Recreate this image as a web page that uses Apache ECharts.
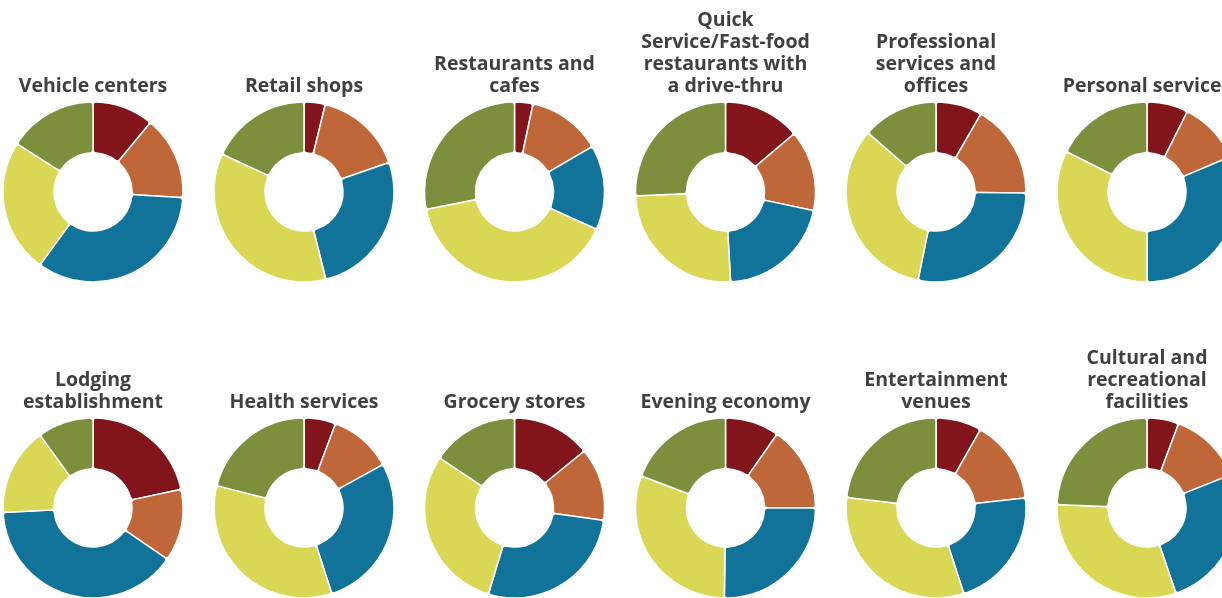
<!DOCTYPE html>
<html>
<head>
<meta charset="utf-8">
<script src="https://cdn.jsdelivr.net/npm/echarts@6/dist/echarts.min.js"></script>
<style>
  html, body { margin: 0; padding: 0; background: #ffffff; }
  #chart { width: 1222px; height: 598px; }
</style>
</head>
<body>
<div id="chart"></div>
<script>
// Categories (one donut each), in reading order
const categories = [
  'Vehicle centers', 'Retail shops', 'Restaurants and\ncafes',
  'Quick\nService/Fast-food\nrestaurants with\na drive-thru',
  'Professional\nservices and\noffices', 'Personal services',
  'Lodging\nestablishment', 'Health services', 'Grocery stores',
  'Evening economy', 'Entertainment\nvenues', 'Cultural and\nrecreational\nfacilities'
];

// Share (%) of each slice, clockwise from top, per category
const darkRedShare = [11.0, 3.8, 3.3, 13.8, 8.3, 7.4, 21.7, 5.7, 14.1, 9.7, 8.2, 5.7];
const orangeShare  = [15.0, 15.9, 13.3, 14.5, 16.9, 11.2, 12.9, 11.3, 13.1, 15.3, 15.0, 13.3];
const blueShare    = [34.0, 26.4, 15.2, 20.8, 28.0, 31.4, 39.6, 28.0, 27.5, 25.2, 21.8, 25.8];
const yellowShare  = [24.0, 35.8, 40.1, 25.2, 33.2, 32.4, 15.8, 34.0, 29.7, 30.6, 31.9, 30.8];
const greenShare   = [16.0, 18.1, 28.1, 25.7, 13.6, 17.6, 10.0, 21.0, 15.6, 19.2, 23.1, 24.4];

const sliceColors = ['#82141b', '#c0673a', '#11739a', '#d9d753', '#7b8f3c'];

const colX = [93, 304, 514.5, 725.5, 936, 1147];
const rowY = [192, 508];
const titleBottom = [98, 414];

const chart = echarts.init(document.getElementById('chart'));

const titles = [];
const series = [];
categories.forEach((cat, i) => {
  const col = i % 6, row = Math.floor(i / 6);
  titles.push({
    text: cat,
    left: colX[col],
    top: titleBottom[row],
    textAlign: 'center',
    textVerticalAlign: 'bottom',
    padding: 0,
    textStyle: {
      fontFamily: 'Open Sans',
      fontWeight: 'bold',
      fontSize: 19.5,
      lineHeight: 22.3,
      color: '#404040'
    }
  });
  const vals = [darkRedShare[i], orangeShare[i], blueShare[i], yellowShare[i], greenShare[i]];
  series.push({
    type: 'pie',
    name: cat,
    center: [colX[col], rowY[row]],
    radius: [39, 90],
    startAngle: 90,
    clockwise: true,
    silent: true,
    animation: false,
    label: { show: false },
    labelLine: { show: false },
    itemStyle: { borderColor: '#ffffff', borderWidth: 1.5, borderRadius: 3 },
    data: vals.map((v, k) => ({ value: v, itemStyle: { color: sliceColors[k] } }))
  });
});

chart.setOption({
  backgroundColor: '#ffffff',
  animation: false,
  title: titles,
  series: series
});
</script>
</body>
</html>
